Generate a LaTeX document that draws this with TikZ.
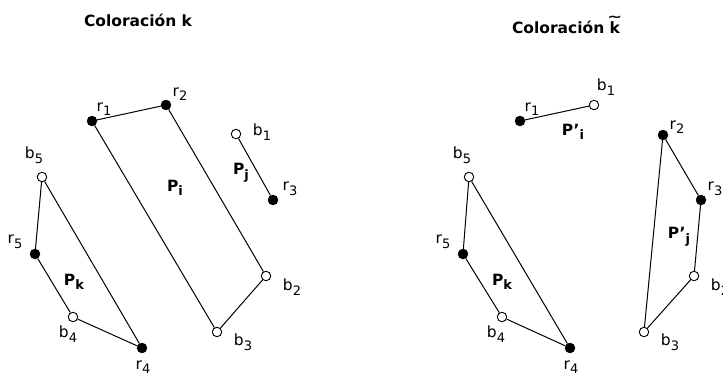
\documentclass[tikz,border=0pt]{standalone}
\usepackage{fontspec}
\setmainfont{DejaVu Sans}
\newcommand\lbl[2]{#1\raisebox{-0.55ex}{\fontsize{13}{14}\selectfont #2}}
\newcommand\tildek{\ooalign{k\cr\hidewidth\raisebox{0.72em}{\scalebox{1.15}[0.85]{\char"7E}}\hidewidth}}
\begin{document}
\begin{tikzpicture}[x=1pt,y=-1pt,
  rdot/.style={circle,fill=black,draw=black,inner sep=0pt,minimum size=10pt},
  bdot/.style={circle,fill=white,draw=black,line width=0.9pt,inner sep=0pt,minimum size=9.5pt},
  edge/.style={line width=1pt},
  lab/.style={font=\fontsize{15.5}{17}\selectfont,inner sep=0pt},
  plab/.style={font=\bfseries\fontsize{15.5}{17}\selectfont,inner sep=0pt},
  ttl/.style={font=\bfseries\fontsize{15.5}{17}\selectfont,inner sep=0pt}]
\useasboundingbox (0,0) rectangle (723,376);
% titles
\node[ttl] (t1) at (138,20) {Coloración k};
\node[ttl,anchor=base] (t2) at (566,33) {Coloración \tildek};
% ---- left ----
\node[rdot] (Lr1) at (92,121) {};
\node[rdot] (Lr2) at (166,105) {};
\node[bdot] (Lb1) at (236,134) {};
\node[rdot] (Lr3) at (273,200) {};
\node[bdot] (Lb5) at (42,177) {};
\node[rdot] (Lr5) at (35,254) {};
\node[bdot] (Lb4) at (73,317) {};
\node[rdot] (Lr4) at (142,348) {};
\node[bdot] (Lb3) at (217,332) {};
\node[bdot] (Lb2) at (266,276) {};
\draw[edge] (Lr1) -- (Lr2) -- (Lb2) -- (Lb3) -- (Lr1);
\draw[edge] (Lb1) -- (Lr3);
\draw[edge] (Lb5) -- (Lr5) -- (Lb4) -- (Lr4) -- (Lb5);
\node[lab] (lLr1) at (104,109) {\lbl{r}{1}};
\node[lab] (lLr2) at (180,94) {\lbl{r}{2}};
\node[lab] (lLb1) at (262,132) {\lbl{b}{1}};
\node[lab] (lLr3) at (290,189) {\lbl{r}{3}};
\node[lab] (lLb5) at (34,155) {\lbl{b}{5}};
\node[lab] (lLr5) at (15,242) {\lbl{r}{5}};
\node[lab] (lLb4) at (68,334) {\lbl{b}{4}};
\node[lab] (lLr4) at (143,367) {\lbl{r}{4}};
\node[lab] (lLb3) at (243,342) {\lbl{b}{3}};
\node[lab] (lLb2) at (292,287) {\lbl{b}{2}};
\node[plab] (Pi) at (175,188) {\lbl{P}{i}};
\node[plab] (Pj) at (241,173) {\lbl{P}{j}};
\node[plab] (Pk) at (74,282) {\lbl{P}{k}};
% ---- right ----
\node[rdot] (Rr1) at (520,121) {};
\node[bdot] (Rb1) at (594,105) {};
\node[rdot] (Rr2) at (663,135) {};
\node[rdot] (Rr3) at (701,200) {};
\node[bdot] (Rb5) at (469,177) {};
\node[rdot] (Rr5) at (463,254) {};
\node[bdot] (Rb4) at (502,317) {};
\node[rdot] (Rr4) at (570,348) {};
\node[bdot] (Rb3) at (644,332) {};
\node[bdot] (Rb2) at (694,276) {};
\draw[edge] (Rr1) -- (Rb1);
\draw[edge] (Rr2) -- (Rr3) -- (Rb2) -- (Rb3) -- (Rr2);
\draw[edge] (Rb5) -- (Rr5) -- (Rb4) -- (Rr4) -- (Rb5);
\node[lab] (lRr1) at (532,109) {\lbl{r}{1}};
\node[lab] (lRb1) at (606,87) {\lbl{b}{1}};
\node[lab] (lRr2) at (677,127) {\lbl{r}{2}};
\node[lab] (lRr3) at (715,189) {\lbl{r}{3}};
\node[lab] (lRb5) at (462,155) {\lbl{b}{5}};
\node[lab] (lRr5) at (443,242) {\lbl{r}{5}};
\node[lab] (lRb4) at (496,334) {\lbl{b}{4}};
\node[lab] (lRr4) at (571,367) {\lbl{r}{4}};
\node[lab] (lRb3) at (670,342) {\lbl{b}{3}};
\node[lab] (lRb2) at (720,287) {\lbl{b}{2}};
\node[plab] (Pip) at (573,132) {\lbl{P'}{i}};
\node[plab] (Pjp) at (679,237) {\lbl{P'}{j}};
\node[plab] (Pkr) at (502,282) {\lbl{P}{k}};
\end{tikzpicture}
\end{document}
